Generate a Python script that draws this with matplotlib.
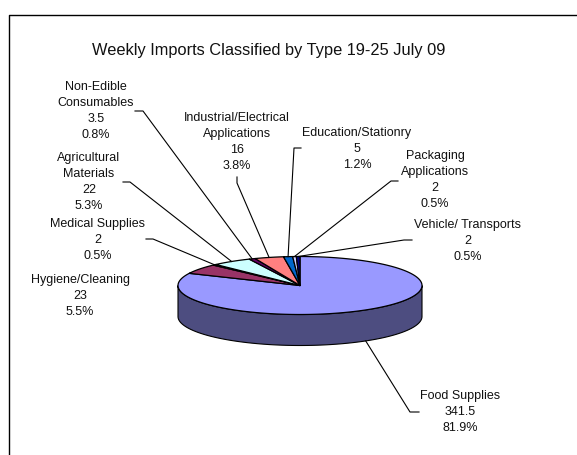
import matplotlib
matplotlib.use("Agg")
import matplotlib.pyplot as plt
import numpy as np

plt.rcParams["font.family"] = ["Liberation Sans", "DejaVu Sans"]

TITLE = "Weekly Imports Classified by Type 19-25 July 09"
names = [
    ["Food Supplies"],
    ["Hygiene/Cleaning"],
    ["Medical Supplies"],
    ["Agricultural", "Materials"],
    ["Non-Edible", "Consumables"],
    ["Industrial/Electrical", "Applications"],
    ["Education/Stationry"],
    ["Packaging", "Applications"],
    ["Vehicle/ Transports"],
]
values = [341.5, 23, 2, 22, 3.5, 16, 5, 2, 2]
colors = ["#9999FF", "#993366", "#FFFFCC", "#CCFFFF", "#660066",
          "#FF8080", "#0066CC", "#CCCCFF", "#000080"]
side_color = "#4D4D80"

# layout, in pixels of the 577x455 picture
CX, CY, RX, RY, DEPTH = 300, 285.5, 122, 29, 31
label_pos = [(460, 395), (80, 279), (98, 223), (89, 157), (96, 86),
             (237, 117), (357, 132), (435, 155), (468, 224)]
# label end of each leader: outer point, then elbow
leaders = [
    ((419, 412), (410, 412)),
    None,
    ((146, 239), (153, 239)),
    ((123, 182), (130, 182)),
    ((135, 111), (143, 111)),
    ((237, 177), (237, 183)),
    ((301, 148), (294, 148)),
    ((398, 181), (391, 181)),
    ((412, 240), (404, 240)),
]


def rim(theta):
    # theta clockwise from 12 o'clock, degrees
    t = np.radians(theta)
    return CX + RX * np.sin(t), CY - RY * np.cos(t)


fig = plt.figure(figsize=(5.77, 4.55), dpi=100)
ax = fig.add_axes([0, 0, 1, 1])
ax.set_xlim(0, 577)
ax.set_ylim(455, 0)
ax.axis("off")

# chart frame, runs off the right and bottom of the picture
ax.plot([8.5, 8.5, 577], [455, 14.5, 14.5], color="black", lw=1.0, zorder=1)

ax.text(269, 50, TITLE, fontsize=11.8, ha="center", va="center", color="#111111")

# side wall, only the front half shows
t = np.linspace(90, 270, 120)
x, y = rim(t)
ax.fill(np.r_[x, x[::-1]], np.r_[y, y[::-1] + DEPTH], facecolor=side_color,
        edgecolor="black", lw=0.8, zorder=2)

values = np.asarray(values, dtype=float)
total = values.sum()
edges = np.r_[0, np.cumsum(values)] / total * 360
for i, color in enumerate(colors):
    t = np.linspace(edges[i], edges[i + 1], 200)
    x, y = rim(t)
    ax.fill(np.r_[CX, x], np.r_[CY, y], facecolor=color, edgecolor="black",
            lw=0.9, joinstyle="round", zorder=3)

# leaders and labels
for i, name in enumerate(names):
    mid = (edges[i] + edges[i + 1]) / 2
    px, py = rim(mid)
    if np.cos(np.radians(mid)) < 0:
        py += DEPTH
    if leaders[i] is not None:
        (x0, y0), (x1, y1) = leaders[i]
        ax.plot([x0, x1, px], [y0, y1, py], color="black", lw=0.8, zorder=4)
    lines = name + [f"{values[i]:g}", f"{values[i] / total:.1%}"]
    lx, ly = label_pos[i]
    for j, line in enumerate(lines):
        ax.text(lx, ly + 1 + j * 16, line, fontsize=9.0, ha="center", va="center",
                color="#111111", zorder=5)

fig.savefig("out.png", dpi=100)
